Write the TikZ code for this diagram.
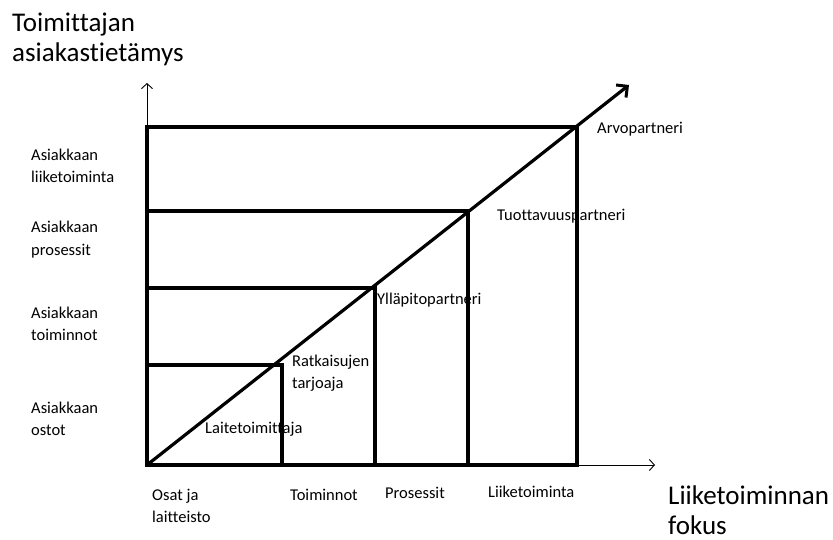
\documentclass[tikz,border=0pt]{standalone}
\usepackage{fontspec}
\setmainfont{Carlito}[Ligatures={NoCommon,NoContextual}]
\usetikzlibrary{arrows.meta}
\begin{document}
\begin{tikzpicture}[x=1pt,y=-1pt,
  axis/.style={line width=0.9pt,-{Straight Barb[length=5pt,width=11pt,line width=0.9pt]}},
  thick/.style={line width=3.2pt},
  diag/.style={line width=3.2pt,-{Straight Barb[length=8pt,width=16pt,line width=3pt]}},
  small/.style={anchor=base west,inner sep=0pt,font=\fontsize{16.5}{22}\selectfont,align=left},
  big/.style={anchor=base west,inner sep=0pt,font=\fontsize{27}{30}\selectfont,align=left}]
\useasboundingbox (0,0) rectangle (833,540);

% reference points of the chart
\coordinate (O) at (147,465);
\coordinate (ytip) at (147,83);
\coordinate (xtip) at (655,465);
\coordinate (dtip) at (629,85);

% thin axes
\draw[axis] (O) -- (ytip);
\draw[axis] (O) -- (xtip);

% nested level boxes
\draw[thick] (147,127) -- (577,127) -- (577,465);
\draw[thick] (147,211) -- (468,211) -- (468,465);
\draw[thick] (147,288) -- (375,288) -- (375,465);
\draw[thick] (147,365) -- (282,365) -- (282,465);
\draw[thick] (147,125.4) -- (O) -- (578.6,465);

% growth diagonal
\draw[diag] (O) -- (dtip);

% axis titles (base anchor sits on the last line)
\node[big] (ytitle) at (12,62) {Toimittajan\\asiakastietämys};
\node[big] (xtitle) at (668,534) {Liiketoiminnan\\fokus};

% vertical axis levels
\node[small] (y4) at (31,183) {Asiakkaan\\liiketoiminta};
\node[small] (y3) at (31,255) {Asiakkaan\\prosessit};
\node[small] (y2) at (31,340) {Asiakkaan\\toiminnot};
\node[small] (y1) at (31,435) {Asiakkaan\\ostot};

% horizontal axis levels
\node[small] (x1) at (152,522) {Osat ja\\laitteisto};
\node[small] (x2) at (290,500) {Toiminnot};
\node[small] (x3) at (385,498) {Prosessit};
\node[small] (x4) at (488,497) {Liiketoiminta};

% supplier roles
\node[small] (r1) at (205,433) {Laitetoimittaja};
\node[small] (r2) at (292,388) {Ratkaisujen\\tarjoaja};
\node[small] (r3) at (377,305) {Ylläpitopartneri};
\node[small] (r4) at (497,221) {Tuottavuuspartneri};
\node[small] (r5) at (597,134) {Arvopartneri};
\end{tikzpicture}
\end{document}
